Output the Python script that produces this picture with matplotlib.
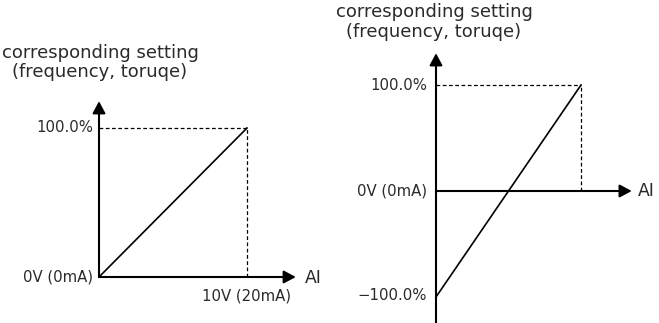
import matplotlib.pyplot as plt

plt.rcParams['font.family'] = ['DejaVu Sans']

# data: two AI -> setting curves
left_x = [0, 10]
left_y = [0, 100]
right_x = [0, 10]
right_y = [-100, 100]

title_1 = "corresponding setting"
title_2 = "(frequency, toruqe)"
pct_top = "100.0%"
pct_bot = "\u2212100.0%"
zero_label = "0V (0mA)"
max_label = "10V (20mA)"
x_name = "AI"

W, H, DPI = 659, 323, 100
TXT = "#2a2a2a"
fig = plt.figure(figsize=(W / DPI, H / DPI), dpi=DPI)


def make_axes(px_left, px_right, x0_px, x_scale, y0_px, y_scale):
    # axes over a pixel box; x=0 sits at x0_px, y=0 at y0_px (pixels from top)
    ax = fig.add_axes([px_left / W, 0, (px_right - px_left) / W, 1])
    ax.set_xlim((px_left - x0_px) / x_scale, (px_right - x0_px) / x_scale)
    ax.set_ylim((y0_px - H) / y_scale, y0_px / y_scale)
    ax.axis("off")
    return ax


def arrow(ax, start, tip):
    ax.annotate("", xy=tip, xytext=start,
                arrowprops=dict(arrowstyle="-|>,head_length=0.6,head_width=0.32",
                                lw=1.5, color="black", fc="black",
                                shrinkA=0, shrinkB=0, mutation_scale=12))


def label(ax, s, xy, dx, dy, ha, va, size=10.7):
    ax.annotate(s, xy=xy, xytext=(dx, dy), textcoords="offset pixels",
                ha=ha, va=va, fontsize=size, color=TXT)


def dashed(ax, x, y):
    ax.plot([0, x], [y, y], ls=(0, (3, 2)), lw=0.9, color="black")
    ax.plot([x, x], [0, y], ls=(0, (3, 2)), lw=0.9, color="black")


# ---- left chart ----
axl = make_axes(0, 330, 99, 14.8, 277, 1.49)
arrow(axl, (0, 0), (0, 118))
arrow(axl, (0, 0), (13.3, 0))
dashed(axl, left_x[1], left_y[1])
axl.plot(left_x, left_y, lw=1.2, color="black")
label(axl, pct_top, (0, 100), -6, 0, "right", "center")
label(axl, zero_label, (0, 0), -6, 0, "right", "center")
label(axl, max_label, (10, 0), 0, -19, "center", "center")
label(axl, x_name, (13.3, 0), 9, -1, "left", "center", size=12.4)
label(axl, title_1, (0, 118), 1, 43, "center", "baseline", size=13)
label(axl, title_2, (0, 118), 1, 24, "center", "baseline", size=13)

# ---- right chart ----
axr = make_axes(330, 659, 436, 14.5, 191, 1.06)
arrow(axr, (0, -135), (0, 130))
arrow(axr, (0, 0), (13.5, 0))
dashed(axr, right_x[1], right_y[1])
axr.plot(right_x, right_y, lw=1.2, color="black")
label(axr, pct_top, (0, 100), -9, 0, "right", "center")
label(axr, zero_label, (0, 0), -9, 0, "right", "center")
label(axr, pct_bot, (0, -100), -9, 2, "right", "center")
label(axr, x_name, (13.5, 0), 6, 0, "left", "center", size=12.4)
label(axr, title_1, (0, 130), -2, 36, "center", "baseline", size=13)
label(axr, title_2, (0, 130), -2, 16, "center", "baseline", size=13)

fig.savefig("out.png", dpi=DPI)
